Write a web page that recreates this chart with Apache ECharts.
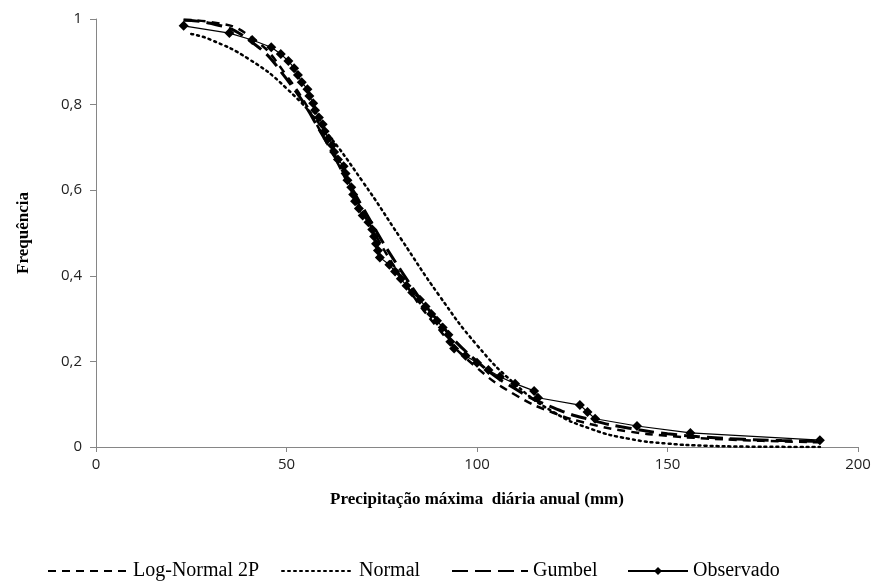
<!DOCTYPE html>
<html>
<head>
<meta charset="utf-8">
<script src="https://cdn.jsdelivr.net/npm/echarts@6/dist/echarts.min.js"></script>
<style>
  html, body { margin: 0; padding: 0; background: #fff; }
  #myChart { width: 882px; height: 587px; }
</style>
</head>
<body>
<div id="myChart"></div>
<script>
// valores ----------------------------------
var curveX = [23, 30, 40, 50, 60, 70, 80, 90, 100, 110, 120, 130, 140, 150, 160, 170, 180, 190];
var logNormalY = [0.998, 0.993, 0.962, 0.868, 0.72, 0.55, 0.398, 0.275, 0.185, 0.122, 0.08, 0.053, 0.036, 0.026, 0.02, 0.016, 0.013, 0.011];
var gumbelY = [0.997, 0.99, 0.952, 0.86, 0.72, 0.56, 0.413, 0.292, 0.2, 0.136, 0.092, 0.063, 0.044, 0.031, 0.023, 0.018, 0.015, 0.013];
var normalX = [25, 30, 40, 50, 60, 70, 80, 90, 100, 110, 120, 130, 140, 150, 160, 170, 180, 190];
var normalY = [0.965, 0.952, 0.907, 0.838, 0.74, 0.62, 0.487, 0.355, 0.238, 0.147, 0.082, 0.042, 0.019, 0.008, 0.003, 0.001, 0.0003, 0.0001];

var obsX = [23, 35, 41, 46, 48.5, 50.5, 52, 53, 54, 55.5, 56, 57, 57.5, 58.5, 59.5, 60, 61, 62, 62.5, 63.5,
            65, 65.5, 66, 67, 67.5, 68, 69, 70, 71.5, 72.5, 73, 73.5, 74, 74.5, 77, 78.5, 80, 81.5, 83, 85,
            86.5, 88, 89.5, 91, 92.5, 93, 94, 97, 100, 103, 106, 110, 115, 116, 127, 129, 131, 142, 156, 190];
var obsY = [0.984, 0.967, 0.951, 0.934, 0.918, 0.902, 0.885, 0.869, 0.852, 0.836, 0.820, 0.803, 0.787, 0.770, 0.754, 0.738, 0.721, 0.705, 0.689, 0.672,
            0.656, 0.639, 0.623, 0.607, 0.590, 0.574, 0.557, 0.541, 0.525, 0.508, 0.492, 0.475, 0.459, 0.443, 0.426, 0.410, 0.393, 0.377, 0.361, 0.344,
            0.328, 0.311, 0.295, 0.279, 0.262, 0.246, 0.230, 0.213, 0.197, 0.180, 0.164, 0.148, 0.131, 0.115, 0.098, 0.082, 0.066, 0.049, 0.033, 0.016];

var yTicks = ['0', '0,2', '0,4', '0,6', '0,8', '1'];

function pares(xs, ys) {
  var out = [];
  for (var i = 0; i < xs.length; i++) out.push([xs[i], ys[i]]);
  return out;
}

var myChart = echarts.init(document.getElementById('myChart'));

var legendText = { fontFamily: 'Liberation Serif', fontSize: 20, color: '#000' };
var semMarca = { color: 'rgba(0,0,0,0)' };  // esconde o círculo da legenda

option = {
  animation: false,
  grid: { left: 96, right: 24, top: 19, bottom: 140 },
  legend: [
    { data: ['Log-Normal 2P'], left: 42, top: 556, itemWidth: 80, itemHeight: 10, textStyle: legendText },
    { data: ['Normal'], left: 276, top: 556, itemWidth: 72, itemHeight: 10, textStyle: legendText },
    { data: ['Gumbel'], left: 446, top: 556, itemWidth: 76, itemHeight: 10, textStyle: legendText },
    { data: ['Observado'], left: 622, top: 556, itemWidth: 60, itemHeight: 10, textStyle: legendText }
  ],
  xAxis: {
    type: 'value',
    min: 0, max: 200, interval: 50,
    name: 'Precipitação máxima  diária anual (mm)',
    nameLocation: 'middle',
    nameGap: 44,
    nameTextStyle: { fontFamily: 'Liberation Serif', fontWeight: 'bold', fontSize: 17, color: '#000' },
    axisLine: { lineStyle: { color: '#868686', width: 1 } },
    axisTick: { show: true, length: 5, lineStyle: { color: '#868686' } },
    axisLabel: { fontFamily: 'Open Sans', fontSize: 15, color: '#222', margin: 10 },
    splitLine: { show: false }
  },
  yAxis: {
    type: 'value',
    min: 0, max: 1, interval: 0.2,
    name: 'Frequência',
    nameLocation: 'middle',
    nameGap: 64,
    nameRotate: 90,
    nameTextStyle: { fontFamily: 'Liberation Serif', fontWeight: 'bold', fontSize: 17, color: '#000' },
    axisLine: { show: true, lineStyle: { color: '#868686', width: 1 } },
    axisTick: { show: true, length: 6, lineStyle: { color: '#868686' } },
    axisLabel: {
      fontFamily: 'Open Sans', fontSize: 15, color: '#222', margin: 14,
      formatter: function (v) { return yTicks[Math.round(v / 0.2)]; }
    },
    splitLine: { show: false }
  },
  series: [
    {
      name: 'Log-Normal 2P', type: 'line', smooth: true, showSymbol: false, symbol: 'none',
      lineStyle: { color: '#000', width: 2.5, type: [8, 6] },
      itemStyle: semMarca,
      data: pares(curveX, logNormalY), z: 2
    },
    {
      name: 'Normal', type: 'line', smooth: true, showSymbol: false, symbol: 'none',
      lineStyle: { color: '#000', width: 2.5, type: [2, 4], cap: 'round' },
      itemStyle: semMarca,
      data: pares(normalX, normalY), z: 2
    },
    {
      name: 'Gumbel', type: 'line', smooth: true, showSymbol: false, symbol: 'none',
      lineStyle: { color: '#000', width: 3, type: [16, 7] },
      itemStyle: semMarca,
      data: pares(curveX, gumbelY), z: 2
    },
    {
      name: 'Observado', type: 'line', symbol: 'diamond', symbolSize: 10,
      lineStyle: { color: '#000', width: 1.2 },
      itemStyle: { color: '#000' },
      data: pares(obsX, obsY), z: 3
    }
  ]
};

myChart.setOption(option);
</script>
</body>
</html>
